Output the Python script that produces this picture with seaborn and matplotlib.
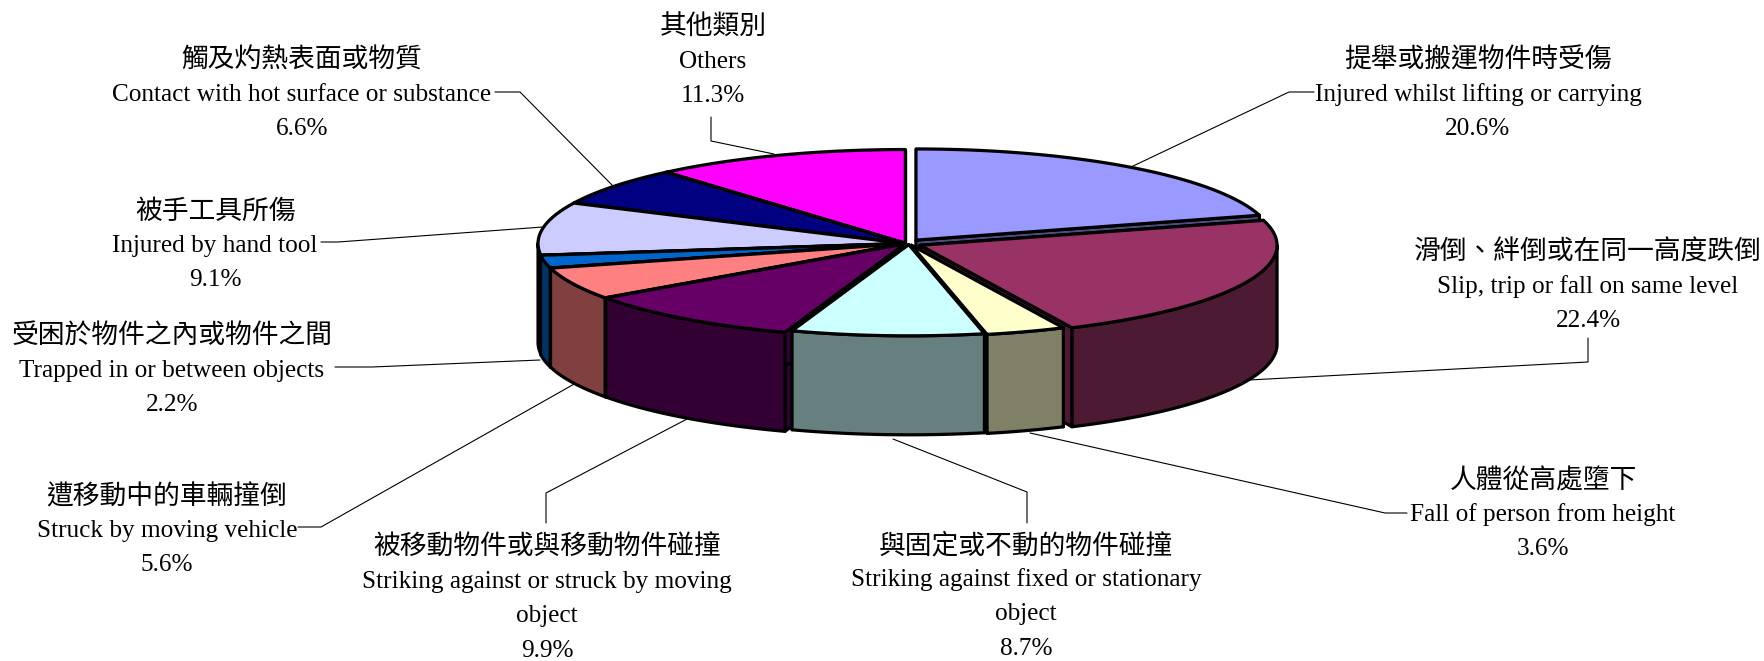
import numpy as np
import seaborn as sns
import matplotlib.pyplot as plt
from matplotlib.patches import Polygon

# pie values, clockwise from 12 o'clock
values = [20.6, 22.4, 3.6, 8.7, 9.9, 5.6, 2.2, 9.1, 6.6, 11.3]
names_zh = ['提舉或搬運物件時受傷', '滑倒、絆倒或在同一高度跌倒', '人體從高處墮下',
            '與固定或不動的物件碰撞', '被移動物件或與移動物件碰撞', '遭移動中的車輛撞倒',
            '受困於物件之內或物件之間', '被手工具所傷', '觸及灼熱表面或物質', '其他類別']
names_en = ['Injured whilst lifting or carrying', 'Slip, trip or fall on same level',
            'Fall of person from height', 'Striking against fixed or stationary\nobject',
            'Striking against or struck by moving\nobject', 'Struck by moving vehicle',
            'Trapped in or between objects', 'Injured by hand tool',
            'Contact with hot surface or substance', 'Others']
colors = ['#9999FF', '#993366', '#FFFFCC', '#CCFFFF', '#660066',
          '#FF8080', '#0066CC', '#CCCCFF', '#000080', '#FF00FF']

# layout, in pixels of the output picture
CX, CY = 906, 243.5
RX, RY = 368, 94
DEPTH = 99
explode = [0.045, 0.045, 0.02, 0.012, 0.006, 0.006, 0.006, 0.005, 0.005, 0.005]
shrink = [0.97, 0.97, 0.97, 0.97, 0.995, 0.995, 0.995, 0.995, 0.995, 0.995]
nudge_x = [0, -1, 3, 3, 0, 0, 0, 0, 0, 0]
label_x = [1478, 1588, 1543, 1026, 547, 167, 172, 215, 302, 713]
label_y = [66, 258, 486, 551, 553, 502, 342, 217, 66, 33]
LINE_H = 34.6
# leader line vertices per slice
leaders = [[(1314, 92), (1289, 92), (1131, 167)],
           [(1588, 338), (1588, 362), (1249, 380)],
           [(1407, 513), (1385, 513), (1030, 433)],
           [(1027, 523), (1027, 492), (893, 439)],
           [(546, 523), (546, 493), (687, 419)],
           [(298, 527), (321, 527), (576, 383)],
           [(335, 367), (372, 367), (540, 360)],
           [(321, 242), (338, 242), (543, 227)],
           [(495, 92), (520, 92), (613, 186)],
           [(711, 117), (711, 141), (774, 154)]]

sns.set_theme(style='white')
plt.rcParams['font.family'] = ['Liberation Serif', 'Noto Sans CJK TC']
palette = sns.color_palette(colors)

fig = plt.figure(figsize=(17.65, 6.61), dpi=100)
ax = fig.add_axes([0, 0, 1, 1])
ax.set_xlim(0, 1765)
ax.set_ylim(661, 0)
ax.axis('off')

for pts in leaders:
    ax.plot(*zip(*pts), color='black', lw=0.8, zorder=1)

edges = np.cumsum([0] + values) / sum(values) * 2 * np.pi
mids = (edges[:-1] + edges[1:]) / 2

LW = 2.3


def add_face(xy, color, z):
    ax.add_patch(Polygon(xy, closed=True, facecolor=color, edgecolor='black',
                         lw=LW, joinstyle='round', zorder=z))


# back slices first so the front ones cover them
order = sorted(range(len(values)), key=lambda k: -np.cos(mids[k]))
z = 2
for i in order:
    t0, t1 = edges[i], edges[i + 1]
    tx = CX + nudge_x[i] + explode[i] * RX * np.sin(mids[i])
    ty = CY - explode[i] * RY * np.cos(mids[i])
    rx, ry = RX * shrink[i], RY * shrink[i]
    dark = tuple(c * 0.5 for c in palette[i])

    # flat walls along the two radii
    for t in (t0, t1):
        ox, oy = tx + rx * np.sin(t), ty - ry * np.cos(t)
        add_face([(tx, ty), (ox, oy), (ox, oy + DEPTH), (tx, ty + DEPTH)], dark, z)
        z += 1

    # rim, only the part that faces the viewer
    a, b = max(t0, np.pi / 2), min(t1, 3 * np.pi / 2)
    if b > a:
        t = np.linspace(a, b, 80)
        x = tx + rx * np.sin(t)
        y = ty - ry * np.cos(t)
        add_face(np.r_[np.c_[x, y], np.c_[x[::-1], y[::-1] + DEPTH]], dark, z)
        z += 1

    # top face
    t = np.linspace(t0, t1, 120)
    add_face(np.r_[[(tx, ty)], np.c_[tx + rx * np.sin(t), ty - ry * np.cos(t)]], palette[i], z)
    z += 1

for i, v in enumerate(values):
    lines = [names_zh[i]] + names_en[i].split('\n') + [f'{v}%']
    for n, s in enumerate(lines):
        size = 19.3 if n == 0 else 18.2
        dy = 2 if n == 0 else 0
        ax.text(label_x[i], label_y[i] + dy + n * LINE_H, s, ha='center', va='baseline',
                fontsize=size, color='black', zorder=100)

plt.savefig('out.png', dpi=100)
